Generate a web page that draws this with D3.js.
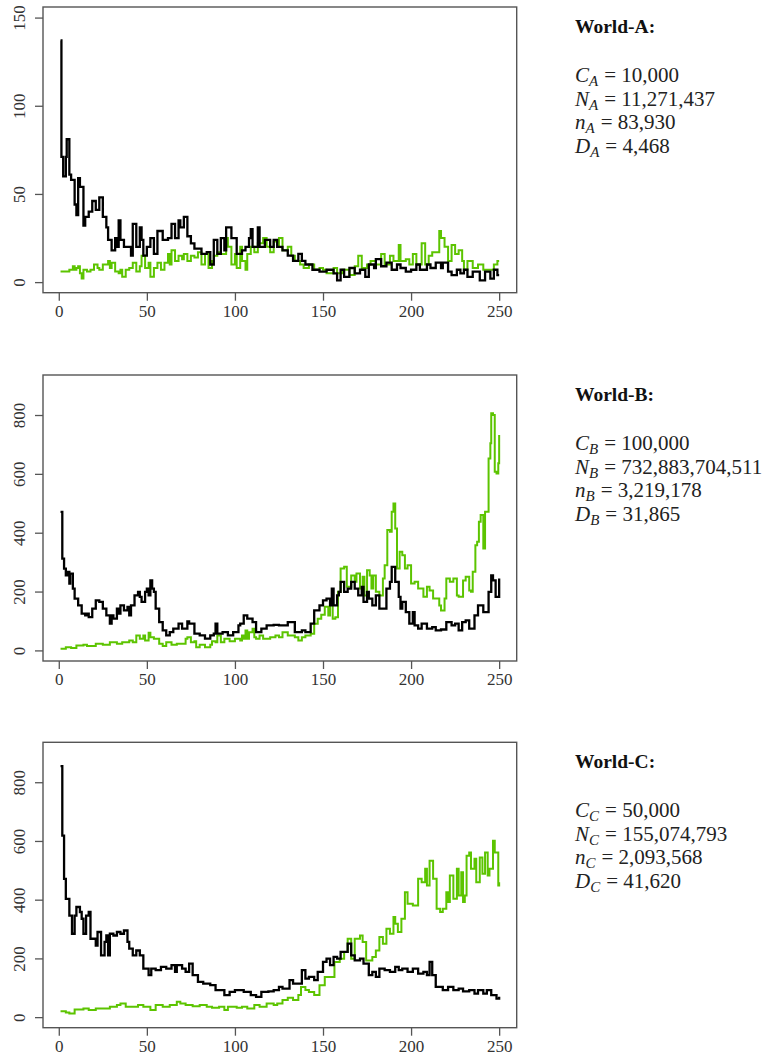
<!DOCTYPE html>
<html>
<head>
<meta charset="utf-8">
<script src="https://cdn.jsdelivr.net/npm/d3@7"></script>
<style>
  body { margin: 0; background: #fff; }
  svg { display: block; }
  .tick text { font-family: "Liberation Serif", "Times New Roman", serif; font-size: 17px; fill: #333; }
</style>
</head>
<body>
<svg id="chart" width="771" height="1057"></svg>
<script>
// values: [time step, value]
var worldA_black = [[1,137],[1.5,71],[2.5,60],[4,71],[4.5,81],[6,61],[7,58],[9,44],[10,38],[11,59],[12,54],[14,32],[15,37],[17,40],[19,46],[21,41],[23,48],[25,37],[27,31],[28,24],[30,18],[32,25],[33,20],[34,35],[35,24],[37,20],[41,15],[42,33],[44,20],[46,31],[47,24],[48,15],[50,20],[52,25],[54,16],[56,29],[59,24],[62,25],[64,33],[66,25],[68,35],[69,31],[71,37],[73,26],[75,22],[77,19],[81,16],[84,17],[86,10],[88,24],[90,16],[92,25],[94,18],[95,31],[98,25],[101,16],[104,18],[106,20],[108,25],[109,30],[110,20],[113,31],[114,20],[117,24],[120,20],[122,24],[124,20],[127,18],[130,15],[133,12],[136,16],[138,12],[140,10],[144,7],[148,6],[152,7],[156,5],[158,1],[160,7],[162,3],[165,8],[168,5],[171,7],[174,3],[176,10],[179,8],[180,13],[183,9],[186,11],[189,7],[192,10],[194,8],[197,6],[200,7],[203,10],[205,7],[209,10],[211,8],[214,11],[217,8],[218,11],[221,6],[223,4],[226,7],[228,5],[230,7],[232,3],[235,6],[239,1],[242,6],[245,2],[247,7],[249,4],[250,4]];
var worldA_green = [[1,6],[5,6],[6,7],[8,9],[9,7],[10,8],[11,9],[12,5],[13,2],[14,7],[16,6],[18,7],[20,10],[22,8],[23,7],[25,10],[28,12],[29,8],[30,11],[32,6],[34,5],[35,7],[36,3],[38,7],[40,8],[42,11],[44,6],[46,9],[47,15],[49,8],[51,11],[52,3],[54,8],[56,11],[58,7],[60,11],[62,16],[63,10],[64,18],[66,12],[68,15],[70,13],[71,16],[73,12],[75,15],[77,14],[79,17],[81,10],[83,16],[85,8],[87,12],[88,15],[90,17],[92,16],[95,25],[96,20],[98,10],[100,16],[101,8],[103,20],[104,12],[106,7],[107,16],[109,20],[111,17],[113,22],[116,25],[118,20],[120,17],[122,23],[124,20],[125,25],[127,18],[130,20],[132,15],[134,12],[137,10],[139,8],[142,10],[145,7],[148,8],[150,7],[152,5],[156,8],[158,5],[161,7],[165,4],[168,9],[170,15],[172,8],[175,10],[177,12],[180,10],[183,16],[185,10],[188,15],[190,12],[193,21],[194,12],[197,13],[199,10],[201,16],[203,10],[206,22],[208,10],[210,15],[212,17],[216,29],[217,25],[219,20],[221,12],[223,21],[225,16],[227,18],[229,12],[230,7],[232,12],[235,8],[238,10],[241,7],[245,7],[247,10],[249,12],[250,12]];

var worldB_black = [[1,471],[2,312],[3,278],[4,255],[5,267],[6,227],[6.5,261],[8,210],[9,176],[11,153],[13,125],[15,119],[16,125],[17,113],[19,142],[21,170],[23,165],[25,142],[27,119],[29,91],[30,119],[31,108],[33,142],[34,125],[35,153],[37,136],[39,148],[40,119],[41,153],[43,187],[45,199],[46,182],[47,165],[49,199],[50,210],[51,187],[52,238],[53,210],[54,199],[55,142],[57,96],[59,68],[61,51],[63,62],[65,74],[68,91],[70,74],[73,99],[74,91],[77,57],[80,51],[83,40],[86,51],[88,57],[89,91],[90,57],[93,62],[96,51],[99,62],[102,85],[103,91],[105,119],[107,108],[110,96],[112,62],[115,74],[118,85],[122,87],[125,85],[130,96],[134,62],[138,68],[140,62],[143,91],[145,136],[148,153],[150,170],[152,176],[154,153],[155,210],[156,153],[158,187],[159,199],[160,233],[162,199],[164,210],[166,233],[168,210],[170,187],[172,216],[173,165],[175,199],[176,176],[178,153],[180,187],[182,142],[186,210],[188,233],[189,284],[191,233],[193,182],[194,142],[195,165],[197,130],[199,91],[201,130],[202,85],[204,74],[206,91],[209,74],[212,79],[214,68],[217,71],[220,96],[223,85],[225,91],[227,68],[229,96],[231,102],[233,74],[236,119],[238,153],[241,130],[244,199],[245.5,255],[246.5,238],[248,182],[249,182],[250,244]];
var worldB_green = [[1,6],[4,11],[7,8],[10,17],[14,19],[16,15],[21,23],[25,19],[29,28],[33,23],[36,28],[40,34],[42,28],[44,51],[46,40],[48,51],[49,34],[51,60],[52,45],[54,40],[57,23],[59,15],[61,28],[64,19],[67,23],[72,40],[73,45],[75,28],[77,31],[78,11],[80,19],[83,11],[86,19],[87,31],[89,28],[90,51],[92,28],[94,40],[97,31],[100,40],[103,34],[104,51],[105,40],[106,68],[107,40],[108,62],[110,74],[111,45],[112,40],[114,51],[116,40],[120,45],[123,51],[125,45],[127,62],[130,51],[134,45],[136,34],[138,45],[140,51],[143,57],[145,91],[147,108],[149,121],[151,148],[153,119],[154,165],[155.5,108],[157,113],[158.5,199],[160,278],[162,284],[163.5,216],[166,255],[168,233],[169,261],[171,210],[172.5,250],[173.5,187],[175,272],[176.5,255],[177.5,210],[178.5,255],[180,199],[182,187],[184,244],[185,289],[186.5,409],[188,403],[189,471],[190,499],[191,414],[192,278],[193.5,335],[195,323],[196.5,278],[198,289],[200,227],[202,233],[204,210],[207,182],[209,216],[210.5,204],[212.5,176],[214.5,176],[216,153],[217,136],[219,176],[220,244],[222,233],[224,244],[226,187],[227,182],[229.5,238],[231,250],[233,204],[234,199],[235,267],[236.5,357],[237.5,369],[238.5,437],[239.5,460],[241,346],[242,471],[243,471],[244,652],[245,704],[245.5,806],[246.5,800],[247.5,607],[248.5,601],[249.5,636],[250,732]];

var worldC_black = [[1,855],[2,618],[3,471],[4,403],[6,346],[7.5,284],[9,346],[10,375],[12,358],[13,335],[14,284],[15.5,346],[17,358],[18,267],[20,267],[21,244],[22,290],[24,210],[26,256],[27,278],[28,210],[29,284],[31,278],[33,290],[35,284],[37,295],[39,256],[40,233],[42,210],[44,227],[46,210],[48,165],[51,143],[52.5,165],[55,160],[58,171],[61,165],[64,177],[66,154],[67,177],[70,165],[72,154],[74,182],[76,143],[79,120],[82,114],[86,109],[89,92],[94,75],[97,86],[100,92],[103,92],[105,86],[109,75],[112,69],[115,86],[119,88],[122,92],[125,103],[127,97],[131,126],[133,114],[138,160],[140,131],[142,137],[145,126],[147,154],[150,188],[152,199],[154,177],[156,205],[158,199],[160,222],[164,250],[166,210],[168,193],[171,199],[173,182],[176,143],[178,154],[180,137],[182,165],[185,160],[188,154],[191,171],[193,160],[195,165],[198,154],[201,165],[204,148],[207,154],[209,143],[210.5,188],[212,143],[214,103],[218,92],[221,103],[224,92],[227,97],[229.5,88],[233,92],[236,80],[238,92],[241,80],[243,92],[245.5,75],[248.5,63],[250,69]];
var worldC_green = [[1,20],[4,16],[6,12],[9,26],[14,29],[17,24],[21,29],[25,29],[29,35],[33,41],[35,46],[38,35],[42,35],[45,41],[48,35],[52,24],[55,41],[59,35],[63,41],[67,52],[69,46],[72,41],[76,37],[80,41],[84,35],[87,32],[91,35],[94,24],[96,35],[101,32],[104,35],[107,29],[111,41],[114,35],[118,46],[122,41],[124,46],[127,58],[130,66],[133,58],[136,75],[137.5,103],[140,92],[142,86],[145,75],[148,109],[151,137],[154,137],[156.5,188],[159.5,199],[162,222],[164,267],[166,199],[168,267],[171,278],[172.5,256],[174.5,193],[178,205],[180,227],[182,273],[184,250],[186,301],[188,284],[190,341],[191,318],[192.5,290],[194.5,335],[196.5,425],[198,386],[201,380],[204,471],[206,459],[208,505],[209,448],[210.5,533],[212.5,471],[214.5,369],[216.5,358],[218,369],[220,425],[221,392],[222,482],[224,403],[226,505],[227,414],[228.5,493],[229.5,392],[230.5,414],[231.5,550],[233,561],[234,505],[236,539],[237,459],[239,544],[240.5,488],[242,561],[243.5,482],[244.5,505],[246.5,601],[247.5,561],[249.5,448],[250,459]];

var xTicks = [0, 50, 100, 150, 200, 250];
var yTicksA = [0, 50, 100, 150];
var yTicksBC = [0, 200, 400, 600, 800];

var worldNames = ["World-A:", "World-B:", "World-C:"];
var worldSubs = ["A", "B", "C"];
var capC = ["10,000", "100,000", "50,000"];
var capN = ["11,271,437", "732,883,704,511", "155,074,793"];
var smallN = ["83,930", "3,219,178", "2,093,568"];
var capD = ["4,468", "31,865", "41,620"];

var svg = d3.select("#chart");
var serif = '"Liberation Serif", "Times New Roman", serif';

var x = d3.scaleLinear().domain([1 - 9.96, 250 + 9.96]).range([43, 516.7]);

var panels = [
  {black: worldA_black, green: worldA_green, top: 7, bottom: 292.7, ymax: 150, ticks: yTicksA, textY: 33},
  {black: worldB_black, green: worldB_green, top: 375, bottom: 661, ymax: 900, ticks: yTicksBC, textY: 401},
  {black: worldC_black, green: worldC_green, top: 742.3, bottom: 1027.7, ymax: 900, ticks: yTicksBC, textY: 768}
];

panels.forEach(function(p, i){
  var pad = p.ymax * 0.04;
  var y = d3.scaleLinear().domain([-pad, p.ymax + pad]).range([p.bottom, p.top]);
  var g = svg.append("g");

  // R type="s" look
  var line = d3.line()
    .x(function(d){ return x(d[0]); })
    .y(function(d){ return y(d[1]); })
    .curve(d3.curveStepAfter);

  g.append("path").datum(p.green)
    .attr("d", line).attr("fill", "none")
    .attr("stroke", "#5cc400").attr("stroke-width", 2);
  g.append("path").datum(p.black)
    .attr("d", line).attr("fill", "none")
    .attr("stroke", "#000").attr("stroke-width", 2.3);

  g.append("rect")
    .attr("x", 43).attr("y", p.top)
    .attr("width", 516.7 - 43).attr("height", p.bottom - p.top)
    .attr("fill", "none").attr("stroke", "#555").attr("stroke-width", 1.4);

  var xa = g.append("g").attr("transform", "translate(0," + p.bottom + ")")
    .call(d3.axisBottom(x).tickValues(xTicks).tickSize(8).tickPadding(4).tickFormat(d3.format("d")));
  xa.select(".domain").remove();
  xa.selectAll(".tick line").attr("stroke", "#555").attr("stroke-width", 1.3);

  var ya = g.append("g").attr("transform", "translate(43,0)")
    .call(d3.axisLeft(y).tickValues(p.ticks).tickSize(8).tickFormat(d3.format("d")));
  ya.select(".domain").remove();
  ya.selectAll(".tick line").attr("stroke", "#555").attr("stroke-width", 1.3);
  ya.selectAll(".tick text")
    .attr("x", null).attr("dy", null)
    .attr("text-anchor", "middle")
    .attr("transform", "translate(-18,0) rotate(-90)");

  // info block on the right
  var tx = 575;
  svg.append("text").attr("x", tx).attr("y", p.textY)
    .attr("font-family", serif).attr("font-size", 19.5).attr("font-weight", "bold")
    .attr("fill", "#111").text(worldNames[i]);

  var rows = [["C", capC[i]], ["N", capN[i]], ["n", smallN[i]], ["D", capD[i]]];
  rows.forEach(function(r, k){
    var t = svg.append("text").attr("x", tx).attr("y", p.textY + 49 + k * 23.7)
      .attr("font-family", serif).attr("font-size", 21).attr("fill", "#222");
    t.append("tspan").attr("font-style", "italic").text(r[0]);
    t.append("tspan").attr("font-style", "italic").attr("font-size", 15).attr("dy", 4).text(worldSubs[i]);
    t.append("tspan").attr("dy", -4).attr("dx", 6).text("= ");
    t.append("tspan").text(r[1]);
  });
});
</script>
</body>
</html>
